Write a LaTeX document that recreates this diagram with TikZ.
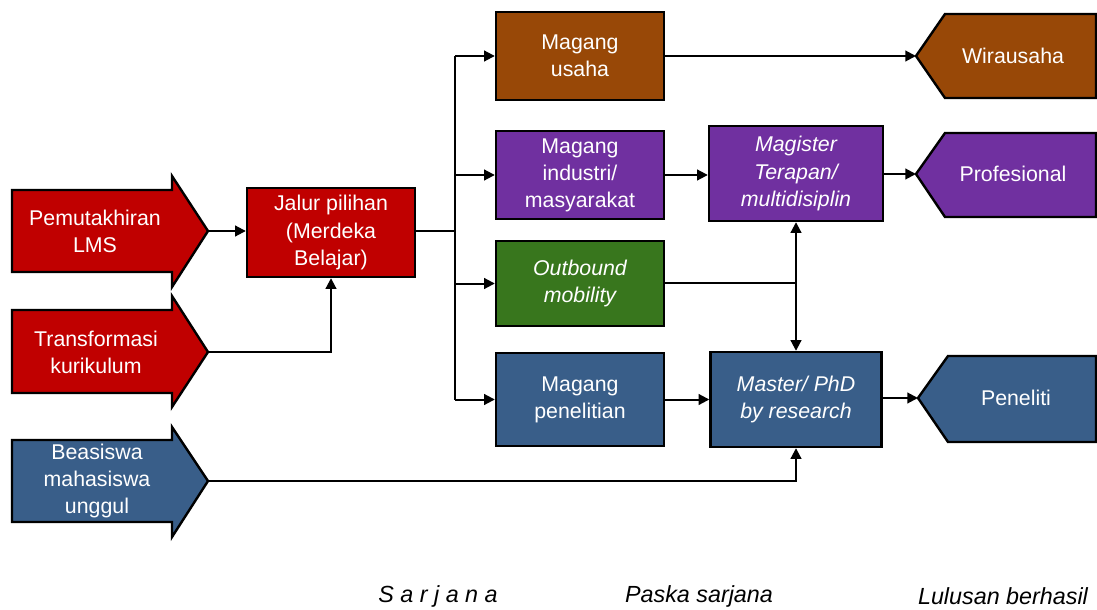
\documentclass[tikz,border=0pt]{standalone}
\usepackage{fontspec}
\setmainfont{Liberation Sans}
\usetikzlibrary{arrows.meta}
\definecolor{cred}{HTML}{C00000}
\definecolor{cbrown}{HTML}{984807}
\definecolor{cpurple}{HTML}{7030A0}
\definecolor{cgreen}{HTML}{38761D}
\definecolor{cblue}{HTML}{395E89}
\begin{document}
\begin{tikzpicture}[x=0.75pt,y=-0.75pt,
  txt/.style={text=white, align=center, font=\fontsize{16}{20.3}\selectfont, inner sep=0pt},
  box/.style={txt, draw=black, line width=1.8pt, minimum width=126pt},
  shp/.style={draw=black, line width=1.8pt, line join=miter},
  conn/.style={line width=1.5pt, -{Triangle[length=8pt,width=8pt]}},
  plain/.style={line width=1.5pt},
  foot/.style={font=\fontsize{17.5}{21}\selectfont\itshape, inner sep=0pt}]
\useasboundingbox (0,0) rectangle (1097,610);

% left arrows
\draw[shp, fill=cred] (12,190) -- (172,190) -- (172,176) -- (208,231) -- (172,287) -- (172,272) -- (12,272) -- cycle;
\coordinate (lmstip) at (208,231);
\node[txt] (lms) at (95,231) {Pemutakhiran\\LMS};

\draw[shp, fill=cred] (12,310) -- (172,310) -- (172,296) -- (208,352) -- (172,407) -- (172,393) -- (12,393) -- cycle;
\coordinate (trtip) at (208,352);
\node[txt] (trans) at (96,352) {Transformasi\\kurikulum};

\draw[shp, fill=cblue] (12,440) -- (172,440) -- (172,427) -- (208,481) -- (172,537) -- (172,522) -- (12,522) -- cycle;
\coordinate (bstip) at (208,481);
\node[txt] (beas) at (97,481) {Beasiswa\\mahasiswa\\unggul};

% boxes
\node[box, fill=cred, minimum height=66.75pt] (jalur) at (331,232.5) {Jalur pilihan\\(Merdeka\\Belajar)};
\node[box, fill=cbrown, minimum height=66pt] (usaha) at (580,56) {Magang\\usaha};
\node[box, fill=cpurple, minimum height=66pt] (industri) at (580,175) {Magang\\industri/\\masyarakat};
\node[box, fill=cgreen, minimum height=63.75pt, font=\fontsize{16}{20.3}\selectfont\itshape] (outbound) at (580,283.5) {Outbound\\mobility};
\node[box, fill=cblue, minimum height=69.75pt] (penelitian) at (580,399.5) {Magang\\penelitian};
\node[box, fill=cpurple, minimum width=130.5pt, minimum height=71.25pt, font=\fontsize{16}{20.3}\selectfont\itshape] (magister) at (796,173.5) {Magister\\Terapan/\\multidisiplin};
\node[box, fill=cblue, minimum width=128.25pt, minimum height=71.25pt, font=\fontsize{16}{20.3}\selectfont\itshape] (master) at (796,399.5) {Master/ PhD\\by research};

% right pentagons
\draw[shp, fill=cbrown] (1096,14) -- (945,14) -- (916,56) -- (945,98) -- (1096,98) -- cycle;
\coordinate (wtip) at (916,56);
\node[txt] (wira) at (1013,56) {Wirausaha};
\draw[shp, fill=cpurple] (1096,133) -- (945,133) -- (916,174) -- (945,217) -- (1096,217) -- cycle;
\coordinate (ptip) at (916,174);
\node[txt] (prof) at (1013,174) {Profesional};
\draw[shp, fill=cblue] (1096,356) -- (948,356) -- (918,398) -- (948,442) -- (1096,442) -- cycle;
\coordinate (ntip) at (918,398);
\node[txt] (pen) at (1016,398) {Peneliti};

% connectors
\draw[conn] (lmstip) -- (lmstip -| jalur.west);
\draw[conn] (trtip) -| (jalur.south);
\coordinate (bus) at (455,231);
\coordinate (bustop) at (455,56);
\coordinate (busbot) at (455,399.5);
\draw[plain] (jalur.east |- bus) -- (bus);
\draw[plain] (bustop) -- (busbot);
\draw[conn] (bustop) -- (usaha.west);
\draw[conn] (bus) |- (industri.west);
\draw[conn] (bus) |- (outbound.west);
\draw[conn] (busbot) -- (penelitian.west);
\draw[conn] (usaha.east) -- (wtip);
\draw[conn] (industri.east) -- (industri.east -| magister.west);
\draw[conn] (magister.east |- ptip) -- (ptip);
\coordinate (jn) at (796,283);
\draw[plain] (outbound.east |- jn) -- (jn);
\draw[conn] (jn) -- (magister.south);
\draw[conn] (jn) -- (master.north);
\draw[conn] (penelitian.east |- master.west) -- (master.west);
\draw[conn] (master.east |- ntip) -- (ntip);
\draw[conn] (bstip) -| (master.south);

% footer labels
\node[foot] (sarjana) at (438,596) {S a r j a n a};
\node[foot] (paska) at (699,596) {Paska sarjana};
\node[foot] (lulus) at (1003,596) {Lulusan berhasil};
\end{tikzpicture}
\end{document}
